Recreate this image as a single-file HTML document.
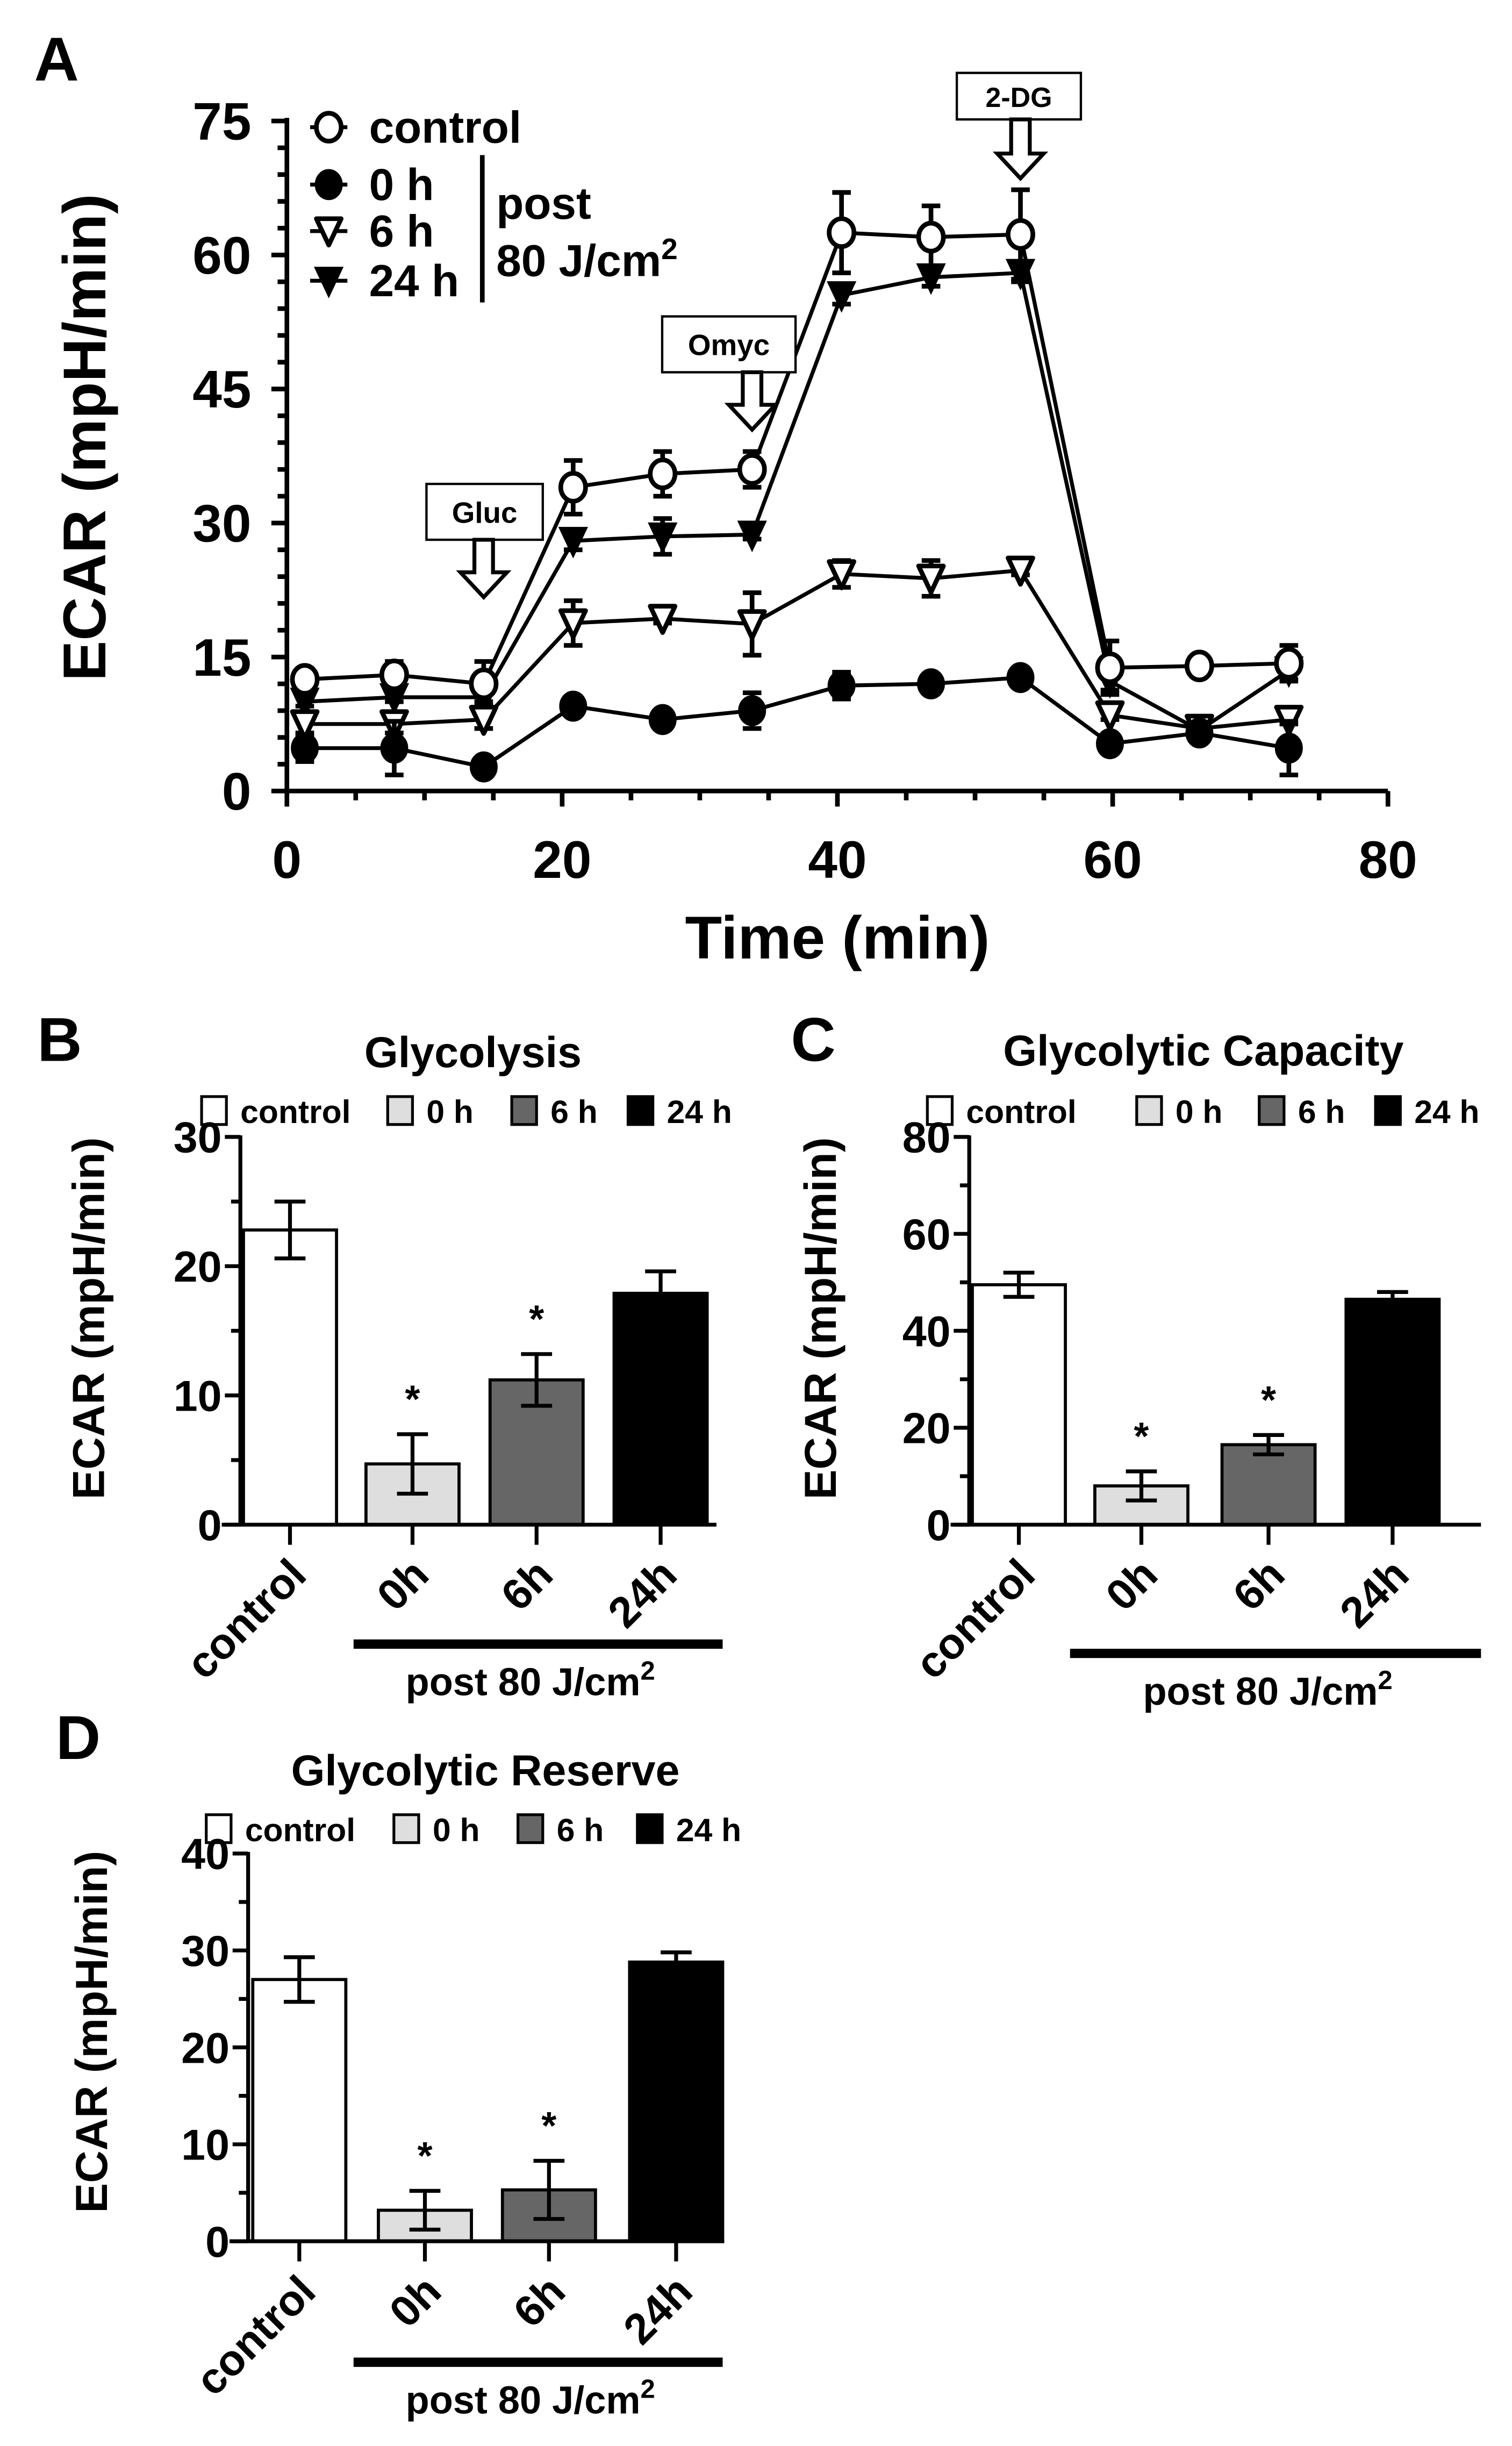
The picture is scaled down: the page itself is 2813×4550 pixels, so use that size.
<!DOCTYPE html>
<html><head><meta charset="utf-8"><style>
html,body{margin:0;padding:0;background:#fff;}
svg{display:block;font-family:"Liberation Sans",Arial,sans-serif;font-weight:bold;}
</style></head><body>
<svg id="fig" xmlns="http://www.w3.org/2000/svg" width="2813" height="4550" viewBox="0 0 975 1577" preserveAspectRatio="none">
<rect width="975" height="1577" fill="#fff"/>
</svg>
<script>
// ---- Panel A data ----
var timePoints=[1.3,7.8,14.3,20.8,27.3,33.8,40.3,46.8,53.3,59.8,66.3,72.8];
var controlVals=[12.5,13,12,34,35.5,36,62.5,62,62.3,13.8,14,14.3];
var controlErr=[1,1.5,2.5,3,2.5,2,4.5,3.5,5,3,0.5,2];
var h0Vals=[4.8,4.8,2.7,9.5,8,9,11.8,12,12.7,5.3,6.5,4.8];
var h0Err=[1.5,3,0.3,1,0.5,2,1.5,0.5,0.5,0.5,0.5,3];
var h6Vals=[7.5,7.5,8,18.8,19.3,18.7,24.3,23.8,24.7,8.5,7,8];
var h6Err=[1,1,1,2.5,0.5,3.5,1.5,2,0.5,0.5,0.5,0.5];
var h24Vals=[10,10.5,10.5,28,28.5,28.7,55.5,57.5,58,12.3,6.8,13.5];
var h24Err=[0.5,0.5,0.5,1,2,0.5,1,1,1,1,0.5,1];
var yTicksA=[0,15,30,45,60,75];
var xTicksA=[0,20,40,60,80];
// ---- Bar panels data ----
var barCats=["control","0h","6h","24h"];
var glyVals=[22.8,4.7,11.2,17.9];
var glyErr=[2.2,2.3,2.0,1.7];
var glyTicks=[0,10,20,30];
var capVals=[49.5,8,16.5,46.5];
var capErr=[2.5,3,2,1.5];
var capTicks=[0,20,40,60,80];
var resVals=[27,3.2,5.3,28.8];
var resErr=[2.3,2,3,1];
var resTicks=[0,10,20,30,40];
var sigFlags=[false,true,true,false];

var NS="http://www.w3.org/2000/svg";
var svg=document.getElementById('fig');
function mk(tag,attrs,parent){var e=document.createElementNS(NS,tag);for(var k in attrs)e.setAttribute(k,attrs[k]);(parent||svg).appendChild(e);return e;}
function txt(s,attrs,parent){var e=mk('text',attrs,parent);e.textContent=s;return e;}

// ===== Panel A =====
var ax={x0:185,x1:895,y0:510,y1:78};
function sx(t){return ax.x0+(t-0)/80*(ax.x1-ax.x0);}
function sy(v){return ax.y0-(v/75)*(ax.y0-ax.y1);}
var gA=mk('g',{});


var l=txt('A',{x:22,y:52,'font-size':40},gA);


var ya=mk('line',{x1:ax.x0,y1:ax.y0,x2:ax.x0,y2:ax.y1-2,stroke:'#000','stroke-width':3},gA);


var xa=mk('line',{x1:ax.x0-1.5,y1:ax.y0,x2:ax.x1,y2:ax.y0,stroke:'#000','stroke-width':3},gA);


for(var v=0;v<=75;v+=3){var major=v%15==0;var t=mk('line',{x1:ax.x0-(major?10:6),y1:sy(v),x2:ax.x0,y2:sy(v),stroke:'#000','stroke-width':3},gA);

}
yTicksA.forEach(function(v){var t=txt(String(v),{x:162,y:sy(v)+12,'font-size':34,'text-anchor':'end'},gA);

});
for(var m=0;m<=80;m+=5){var major=m%20==0;var t=mk('line',{x1:sx(m),y1:ax.y0,x2:sx(m),y2:ax.y0+(major?10:6),stroke:'#000','stroke-width':3},gA);

}
xTicksA.forEach(function(v){var t=txt(String(v),{x:sx(v),y:566,'font-size':34,'text-anchor':'middle'},gA);

});
var yt=txt('ECAR (mpH/min)',{x:0,y:0,'font-size':39,'text-anchor':'middle',transform:'translate(68,282) rotate(-90)'},gA);


var xt=txt('Time (min)',{x:540,y:618,'font-size':39,'text-anchor':'middle'},gA);



function marker(type,cx,cy,parent){
  var e;
  if(type=='oc')e=mk('ellipse',{cx:cx,cy:cy,rx:8,ry:9,fill:'#fff',stroke:'#000','stroke-width':3},parent);
  else if(type=='fc')e=mk('ellipse',{cx:cx,cy:cy,rx:8,ry:9,fill:'#000',stroke:'#000','stroke-width':2},parent);
  else if(type=='ot')e=mk('polygon',{points:(cx-8)+','+(cy-8)+' '+(cx+8)+','+(cy-8)+' '+cx+','+(cy+9),fill:'#fff',stroke:'#000','stroke-width':3,'stroke-linejoin':'round'},parent);
  else e=mk('polygon',{points:(cx-8)+','+(cy-8)+' '+(cx+8)+','+(cy-8)+' '+cx+','+(cy+9),fill:'#000',stroke:'#000','stroke-width':2},parent);
  return e;
}
var seriesA=[
  {name:'24h',vals:h24Vals,err:h24Err,m:'ft'},
  {name:'6h',vals:h6Vals,err:h6Err,m:'ot'},
  {name:'0h',vals:h0Vals,err:h0Err,m:'fc'},
  {name:'control',vals:controlVals,err:controlErr,m:'oc'}
];
seriesA.forEach(function(s){
  var g=mk('g',{},gA);
  
  
  var pts=timePoints.map(function(t,i){return sx(t)+','+sy(s.vals[i]);}).join(' ');
  var pl=mk('polyline',{points:pts,fill:'none',stroke:'#000','stroke-width':2.5},g);
  
  
  timePoints.forEach(function(t,i){
    var x=sx(t),yv=s.vals[i],e=s.err[i];
    var eb=mk('path',{d:'M'+x+','+sy(yv-e)+'V'+sy(yv+e)+'M'+(x-6)+','+sy(yv+e)+'h12M'+(x-6)+','+sy(yv-e)+'h12',stroke:'#000','stroke-width':3,fill:'none'},g);
    
    
  });
  timePoints.forEach(function(t,i){
    var p=marker(s.m,sx(t),sy(s.vals[i]),g);
    
    
  });
});
var inj=[{label:'Gluc',t:14.3,bx:275,by:312,bw:75,bh:36,ay:385,fs:19},{label:'Omyc',t:33.8,bx:427,by:204,bw:86,bh:36,ay:277,fs:19},{label:'2-DG',t:53.3,bx:617,by:47,bw:80,bh:30,ay:115,fs:18}];
inj.forEach(function(a){
  var g=mk('g',{},gA);
  
  
  mk('rect',{x:a.bx,y:a.by,width:a.bw,height:a.bh,fill:'#fff',stroke:'#000','stroke-width':1.5},g);
  txt(a.label,{x:a.bx+a.bw/2,y:a.by+a.bh/2+7,'font-size':a.fs,'text-anchor':'middle'},g);
  var x=sx(a.t),top=a.by+a.bh,ah=a.ay;
  mk('polygon',{points:(x-6)+','+top+' '+(x+6)+','+top+' '+(x+6)+','+(ah-16)+' '+(x+15)+','+(ah-16)+' '+x+','+ah+' '+(x-15)+','+(ah-16)+' '+(x-6)+','+(ah-16),fill:'#fff',stroke:'#000','stroke-width':2.5},g);
});
var lg=mk('g',{},gA);


[['oc','control',82],['fc','0 h',119],['ot','6 h',149],['ft','24 h',181]].forEach(function(e){
  var g=mk('g',{},lg);
  
  
  mk('line',{x1:200,y1:e[2],x2:224,y2:e[2],stroke:'#000','stroke-width':2.5},g);
  marker(e[0],212,e[2],g);
  txt(e[1],{x:238,y:e[2]+10,'font-size':29},g);
});
mk('line',{x1:311,y1:100,x2:311,y2:195,stroke:'#000','stroke-width':3},lg);
txt('post',{x:320,y:141,'font-size':29},lg);
var t80=txt('80 J/cm',{x:320,y:178,'font-size':29},lg);
var sup=mk('tspan',{dy:-11,'font-size':19},t80);sup.textContent='2';

// ===== Bar panels =====
var fills=['#fff','#dedede','#666','#000'];
function barPanel(p){
  var g=mk('g',{});
  
  
  var ymax=p.ticks[p.ticks.length-1];
  function by(v){return p.y0-v/ymax*(p.y0-p.y1);}
  var L=txt(p.letter,{x:p.lx,y:p.ly,'font-size':40},g);
  
  
  var T=txt(p.title,{x:p.tx,y:p.ty,'font-size':28,'text-anchor':'middle'},g);
  
  
  var labels=['control','0 h','6 h','24 h'];
  p.legX.forEach(function(lx,i){
    var le=mk('g',{},g);
    
    
    mk('rect',{x:lx,y:p.legY-9,width:16,height:18,fill:fills[i],stroke:'#000','stroke-width':1.8},le);
    txt(labels[i],{x:lx+25,y:p.legY+8,'font-size':21},le);
  });
  p.vals.forEach(function(v,i){
    var cx=p.cx[i],w=60;
    var r=mk('rect',{x:cx-w/2,y:by(v),width:w,height:p.y0-by(v),fill:fills[i],stroke:'#000','stroke-width':2},g);
    
    
    var e=p.err[i];
    var eb=mk('path',{d:'M'+cx+','+by(v-e)+'V'+by(v+e)+'M'+(cx-10)+','+by(v+e)+'h20M'+(cx-10)+','+by(v-e)+'h20',stroke:'#000','stroke-width':2.5,fill:'none'},g);
    
    
    if(sigFlags[i]){var s=txt('*',{x:cx,y:by(v+e)-14,'font-size':25,'text-anchor':'middle'},g);
      
      }
    var tk=mk('line',{x1:cx,y1:p.y0,x2:cx,y2:p.y0+13,stroke:'#000','stroke-width':2.5},g);
    
    
    var cl=txt(barCats[i],{x:0,y:0,'font-size':28,'text-anchor':'end',transform:'translate('+(cx+12)+','+(p.y0+34)+') rotate(-45)'},g);
    
    
  });
  var ya=mk('line',{x1:p.x0,y1:p.y0,x2:p.x0,y2:p.y1-1,stroke:'#000','stroke-width':2.5},g);
  
  
  var xa=mk('line',{x1:p.x0-12,y1:p.y0,x2:p.x1,y2:p.y0,stroke:'#000','stroke-width':2.5},g);
  
  
  var step=(p.ticks[1]-p.ticks[0])/2;
  for(var v=0;v<=ymax+0.001;v+=step){var major=Math.abs((v/(step*2))-Math.round(v/(step*2)))<0.01;
    var t=mk('line',{x1:p.x0-(major?10:6),y1:by(v),x2:p.x0,y2:by(v),stroke:'#000','stroke-width':2.5},g);
    
    }
  p.ticks.forEach(function(v){var t=txt(String(v),{x:p.x0-12,y:by(v)+10,'font-size':28,'text-anchor':'end'},g);
    
    });
  var yt=txt('ECAR (mpH/min)',{x:0,y:0,'font-size':29,'text-anchor':'middle',transform:'translate('+p.ytx+','+p.yty+') rotate(-90)'},g);
  
  
  var ul=mk('line',{x1:p.ulx0,y1:p.uly,x2:p.ulx1,y2:p.uly,stroke:'#000','stroke-width':6},g);
  
  
  var pt=txt('post 80 J/cm',{x:(p.ulx0+p.ulx1)/2-5,y:p.uly+33,'font-size':25,'text-anchor':'middle'},g);
  
  
  var s2=mk('tspan',{dy:-10,'font-size':17},pt);s2.textContent='2';
}
barPanel({name:'panel-b-glycolysis',letter:'B',lx:24,ly:684,title:'Glycolysis',tx:305,ty:688,legX:[130,250,330,405],legY:716,
  x0:155,x1:462,y0:983,y1:733,ticks:glyTicks,vals:glyVals,err:glyErr,cx:[187,266,346,426],ytx:67,yty:850,ulx0:228,ulx1:466,uly:1060});
barPanel({name:'panel-c-glycolytic-capacity',letter:'C',lx:510,ly:684,title:'Glycolytic Capacity',tx:776,ty:687,legX:[598,733,812,887],legY:716,
  x0:625,x1:955,y0:983,y1:733,ticks:capTicks,vals:capVals,err:capErr,cx:[657,736,818,898],ytx:539,yty:850,ulx0:690,ulx1:955,uly:1066});
barPanel({name:'panel-d-glycolytic-reserve',letter:'D',lx:36,ly:1134,title:'Glycolytic Reserve',tx:313,ty:1151,legX:[133,254,334,411],legY:1179,
  x0:160,x1:467,y0:1445,y1:1195,ticks:resTicks,vals:resVals,err:resErr,cx:[193,274,354,436],ytx:69,yty:1310,ulx0:228,ulx1:466,uly:1523});
</script>
</body></html>
